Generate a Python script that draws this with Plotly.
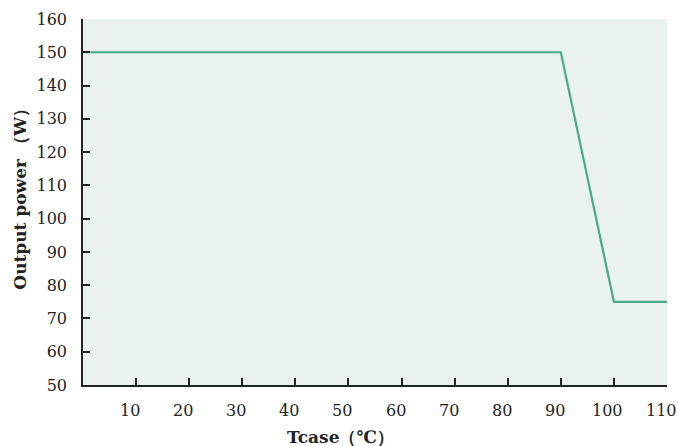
import plotly.graph_objects as go

temp_c = [0, 90, 100, 110]
power_w = [150, 150, 75, 75]
x_ticks = [10, 20, 30, 40, 50, 60, 70, 80, 90, 100, 110]
y_ticks = [50, 60, 70, 80, 90, 100, 110, 120, 130, 140, 150, 160]

fig = go.Figure()
fig.add_trace(go.Scatter(x=temp_c, y=power_w, mode="lines",
                         line=dict(color="#4AAA87", width=2.2), hoverinfo="skip",
                         cliponaxis=False))

font_tick = dict(family="DejaVu Serif", size=16, color="#222222")
ann = [
    dict(text=str(v), x=v, xref="x", y=0, yref="paper", xanchor="center", yanchor="middle",
         xshift=-6, yshift=-25, showarrow=False, font=font_tick)
    for v in x_ticks
]
ann += [
    dict(text="<b>Tcase（℃）</b>", xref="paper", yref="paper", x=(340-83)/584, y=-(437-385)/366,
         xanchor="center", yanchor="middle", showarrow=False,
         font=dict(family="DejaVu Serif", size=17, color="#222222")),
    dict(text="<b>Output power （W）</b>", xref="paper", yref="paper", x=-(83-20)/584, y=0.52,
         xanchor="center", yanchor="middle", showarrow=False, textangle=-90,
         font=dict(family="DejaVu Serif", size=17, color="#222222")),
]

fig.update_layout(
    width=678, height=446,
    margin=dict(l=83, r=11, t=19, b=61, autoexpand=False),
    paper_bgcolor="white",
    plot_bgcolor="#E9F2EE",
    showlegend=False,
    xaxis=dict(range=[0, 110], tickvals=x_ticks, showticklabels=False,
               ticks="inside", ticklen=7, tickwidth=1.5, tickcolor="#222222",
               showline=True, linecolor="#222222", linewidth=1.5, showgrid=False,
               zeroline=False, automargin=False),
    yaxis=dict(range=[50, 160], tickvals=y_ticks, ticktext=[str(v) for v in y_ticks],
               ticks="inside", ticklen=7, tickwidth=1.5, tickcolor="#222222",
               showline=True, linecolor="#222222", linewidth=1.5, showgrid=False,
               zeroline=False, tickfont=font_tick, ticklabelstandoff=11, automargin=False),
    annotations=ann,
)
fig.write_html("out.html", config={"displayModeBar": False},
               post_script="document.body.style.margin='0';")
